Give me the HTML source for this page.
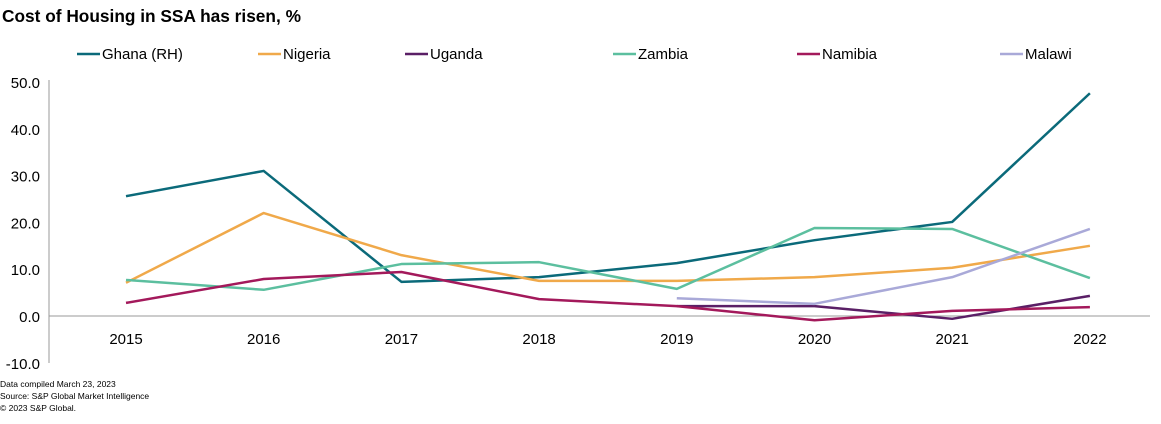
<!DOCTYPE html>
<html><head><meta charset="utf-8"><style>
body{margin:0;background:#fff;width:1161px;height:419px;overflow:hidden;font-family:"Liberation Sans",Arial,sans-serif}
</style></head><body>
<svg width="1161" height="419" xmlns="http://www.w3.org/2000/svg" font-family="Liberation Sans, Arial, sans-serif">
<text x="2" y="22" font-size="17.3" font-weight="bold" fill="#000">Cost of Housing in SSA has risen, %</text>
<g id="legend"></g>
<g id="axes"></g>
<g id="series"></g>
<text x="0" y="387" font-size="8.5" fill="#000">Data compiled March 23, 2023</text>
<text x="0" y="399" font-size="8.5" fill="#000">Source: S&amp;P Global Market Intelligence</text>
<text x="0" y="411" font-size="8.5" fill="#000">© 2023 S&amp;P Global.</text>
</svg>
<script>
const years=[2015,2016,2017,2018,2019,2020,2021,2022];
const yTicks=[-10,0,10,20,30,40,50];
const seriesNames=["Ghana (RH)","Nigeria","Uganda","Zambia","Namibia","Malawi"];
const ghana=[25.6,31.0,7.3,8.3,11.3,16.2,20.1,47.6];
const nigeria=[7.1,22.0,13.0,7.5,7.5,8.3,10.3,15.0];
const uganda=[null,null,null,null,2.1,2.1,-0.6,4.3];
const zambia=[7.7,5.6,11.1,11.5,5.8,18.8,18.6,8.1];
const namibia=[2.8,7.9,9.4,3.6,2.1,-0.9,1.1,1.9];
const malawi=[null,null,null,null,3.8,2.6,8.3,18.6];
const seriesData=[ghana,nigeria,uganda,zambia,namibia,malawi];
const colors=["#0b6a7a","#f0a94a","#5a1f66","#5cbf9f","#a3195b","#a9a9d8"];
const legendX=[77,258,405,613,797,1000];
const NS="http://www.w3.org/2000/svg";
function el(t,a,p){const e=document.createElementNS(NS,t);for(const k in a)e.setAttribute(k,a[k]);p.appendChild(e);return e;}
const x=i=>126+i*137.7;
const y=v=>316-v*4.68;
const axes=document.getElementById('axes');
const yl=el('line',{x1:49,y1:80,x2:49,y2:363,stroke:'#999'},axes);


const zl=el('line',{x1:49,y1:y(0),x2:1150,y2:y(0),stroke:'#999'},axes);


yTicks.forEach(t=>{const tx=el('text',{x:40,y:y(t)+6,'font-size':15,'text-anchor':'end',fill:'#000'},axes);tx.textContent=t.toFixed(1);

});
years.forEach((yr,i)=>{const tx=el('text',{x:x(i),y:344,'font-size':15,'text-anchor':'middle',fill:'#000'},axes);tx.textContent=yr;

});
const sg=document.getElementById('series');
seriesData.forEach((d,s)=>{let pts=[];d.forEach((v,i)=>{if(v!==null)pts.push(x(i)+','+y(v));});
const pl=el('polyline',{points:pts.join(' '),fill:'none',stroke:colors[s],'stroke-width':2.5,'stroke-linejoin':'round'},sg);

});
const lg=document.getElementById('legend');
seriesNames.forEach((n,s)=>{const g=el('g',{},lg);


el('line',{x1:legendX[s],y1:54,x2:legendX[s]+23,y2:54,stroke:colors[s],'stroke-width':2.5},g);
const t=el('text',{x:legendX[s]+25,y:59,'font-size':15,fill:'#000'},g);t.textContent=n;});
</script>
</body></html>
